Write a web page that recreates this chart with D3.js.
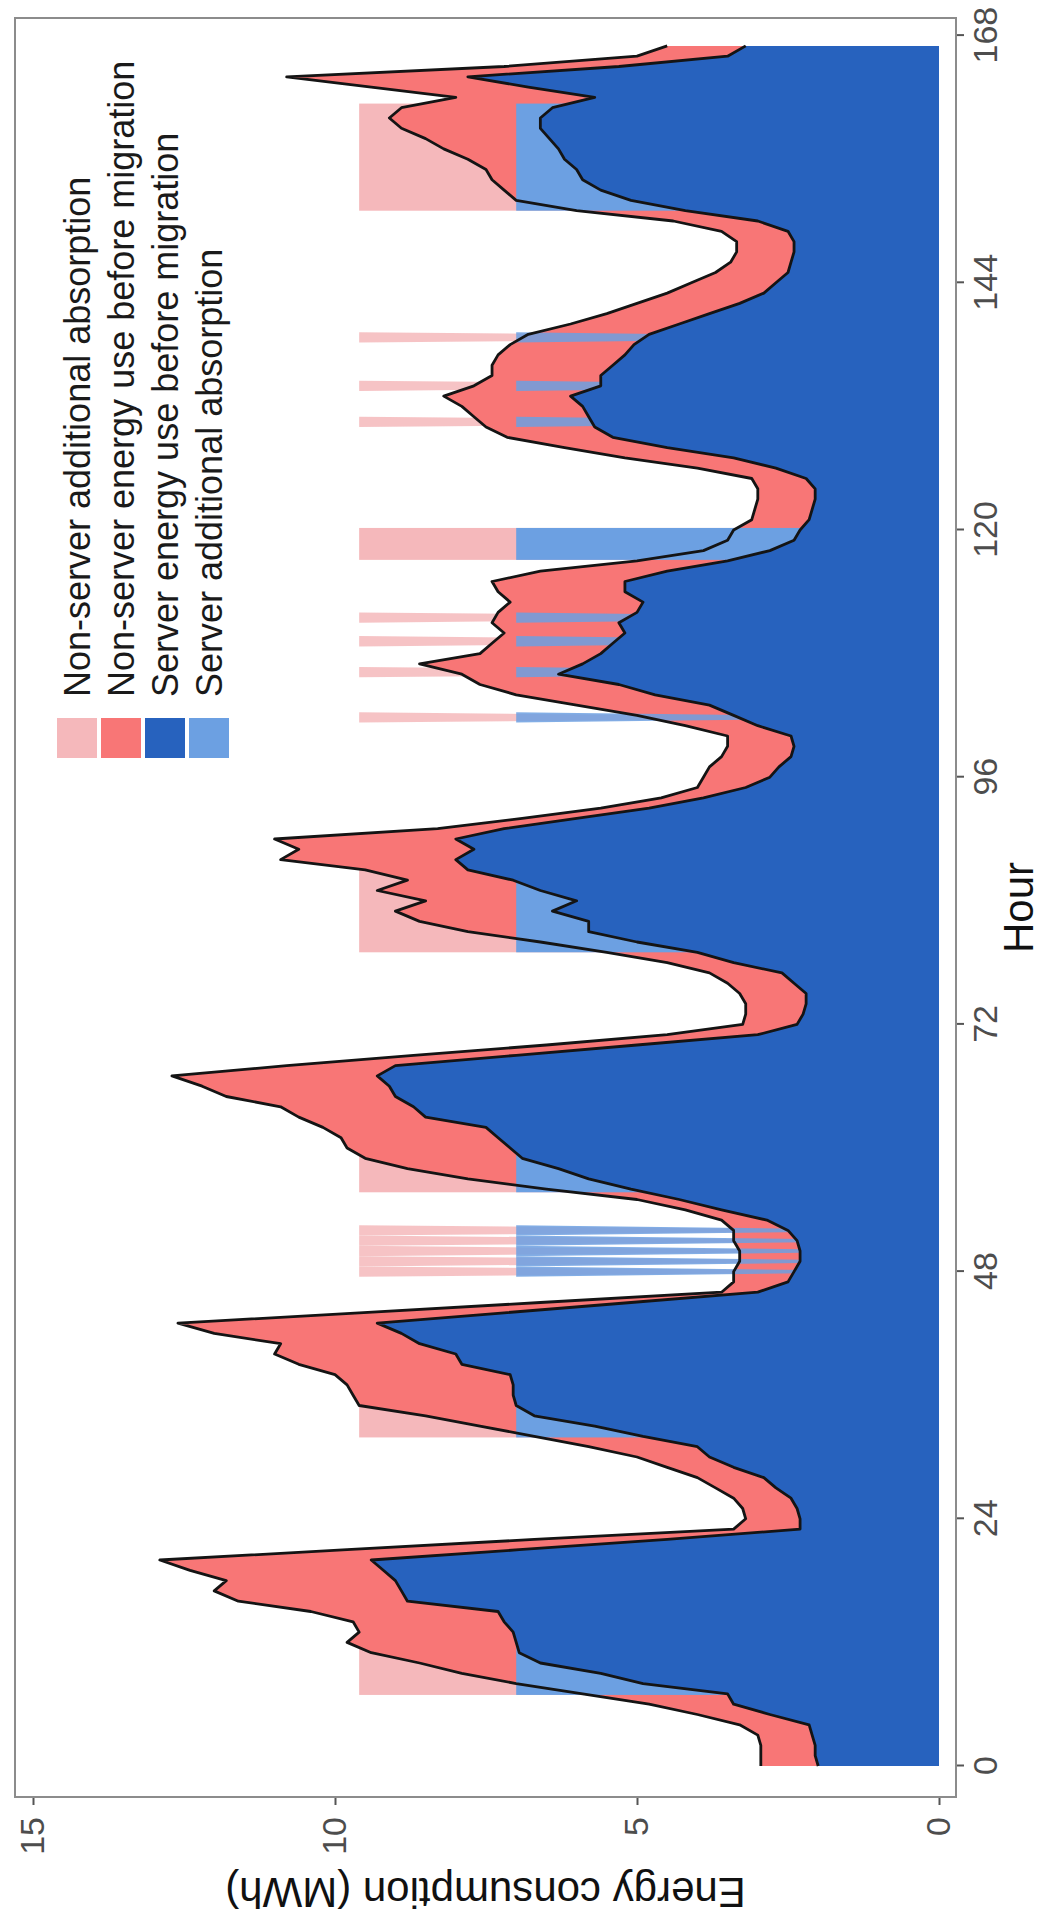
<!DOCTYPE html>
<html>
<head>
<meta charset="utf-8">
<script src="https://cdn.jsdelivr.net/npm/d3@7"></script>
<style>
body { margin: 0; background: #fff; }
text { font-family: 'Liberation Sans', Arial, sans-serif; }
</style>
</head>
<body>
<div id="drawArea"></div>
<script>
// hourly values, one week (hour 0 .. 167)
var hours = d3.range(0, 168);

var serverBefore = [
	2.0, 2.05, 2.05, 2.1, 2.15, 2.8, 3.4, 3.5, 4.9, 5.6, 6.6, 6.95, 7.0, 7.05, 7.2, 7.3, 8.8, 8.9, 9.0, 9.2, 9.4, 6.95, 4.5, 2.3,
	2.3, 2.35, 2.45, 2.7, 2.9, 3.4, 3.8, 4.0, 4.9, 5.7, 6.7, 7.0, 7.05, 7.05, 7.1, 7.9, 8.0, 8.6, 8.9, 9.3, 7.2, 5.1, 3.0, 2.5,
	2.4, 2.3, 2.3, 2.35, 2.5, 2.85, 3.6, 4.3, 5.1, 5.8, 6.3, 6.9, 7.1, 7.3, 7.5, 8.5, 8.7, 9.0, 9.1, 9.3, 9.0, 7.0, 5.0, 3.0,
	2.35, 2.25, 2.2, 2.2, 2.4, 2.6, 3.4, 4.0, 5.0, 5.8, 5.8, 6.4, 6.0, 6.6, 7.05, 7.8, 8.0, 7.7, 8.0, 7.2, 6.0, 4.8, 3.9, 3.2,
	2.8, 2.65, 2.45, 2.4, 2.45, 3.0, 3.4, 3.8, 4.7, 5.3, 6.3, 5.9, 5.6, 5.4, 5.2, 5.3, 5.0, 4.9, 5.2, 5.2, 4.5, 3.5, 2.8, 2.4,
	2.3, 2.15, 2.1, 2.05, 2.05, 2.2, 2.7, 3.4, 4.5, 5.4, 5.7, 5.8, 5.9, 6.1, 5.6, 5.6, 5.4, 5.2, 5.05, 4.8, 4.3, 3.8, 3.3, 2.9,
	2.7, 2.5, 2.45, 2.4, 2.4, 2.5, 3.0, 4.2, 5.1, 5.6, 5.9, 6.0, 6.2, 6.3, 6.45, 6.6, 6.6, 6.4, 5.7, 6.8, 7.8, 5.3, 3.5, 3.2
];

var nonServerBefore = [
	0.95, 0.9, 0.9, 0.9, 1.15, 1.2, 1.4, 2.4, 2.1, 2.3, 2.0, 2.45, 2.8, 2.55, 2.5, 3.1, 2.8, 3.1, 2.8, 3.2, 3.5, 2.85, 2.2, 1.1,
	0.9, 0.9, 0.95, 1.0, 1.1, 1.1, 1.2, 1.8, 1.8, 1.9, 1.8, 2.6, 2.65, 2.75, 2.9, 2.7, 3.0, 2.3, 3.1, 3.3, 2.4, 1.5, 0.6, 0.9,
	1.0, 1.0, 1.0, 1.05, 0.9, 0.75, 0.6, 0.7, 1.4, 2.0, 2.5, 2.6, 2.7, 2.6, 2.7, 2.1, 2.2, 2.8, 3.1, 3.4, 1.8, 1.7, 1.5, 1.5,
	0.9, 0.95, 1.0, 1.1, 1.1, 1.2, 1.1, 1.5, 1.6, 2.0, 2.8, 2.6, 2.5, 2.7, 1.75, 1.7, 2.9, 2.9, 3.0, 1.1, 0.9, 0.8, 0.7, 0.8,
	1.1, 1.15, 1.15, 1.1, 1.05, 1.2, 1.6, 2.2, 2.3, 2.3, 1.6, 2.7, 2.0, 2.0, 2.0, 2.1, 2.3, 2.2, 2.1, 2.2, 2.1, 1.5, 1.1, 1.1,
	1.1, 0.95, 0.95, 0.95, 0.95, 0.9, 1.3, 1.8, 1.7, 1.75, 1.8, 1.9, 2.0, 2.1, 2.1, 1.8, 2.0, 2.1, 2.05, 2.0, 1.8, 1.7, 1.7, 1.6,
	1.4, 1.2, 1.0, 0.95, 0.95, 1.1, 1.4, 1.8, 1.9, 1.6, 1.5, 1.5, 1.6, 1.9, 2.05, 2.3, 2.5, 2.5, 2.3, 2.6, 3.0, 1.9, 1.5, 1.3
];

// hours when load is absorbed (start, end) and single absorbed hours
var absorptionRuns = [[6.9, 20], [31.9, 43], [55.7, 66], [79, 87], [117.1, 120.2], [151, 161.4]];
var absorptionSpikes = [48, 49, 50, 51, 52, 101.8, 106.2, 109.2, 111.5, 130.5, 134, 138.7];
var serverCap = 7;
var totalCap = 9.6;

var hourTicks = [0, 24, 48, 72, 96, 120, 144, 168];
var energyTicks = [0, 5, 10, 15];

var legendLabels = ['Non-server additional absorption', 'Non-server energy use before migration',
	'Server energy use before migration', 'Server additional absorption'];
var colors = { nsAbs: '#f5b8bb', ns: '#f87676', srv: '#2762be', srvAbs: '#6ca0e2' };
var legendColors = [colors.nsAbs, colors.ns, colors.srv, colors.srvAbs];

var pageW = 1045, pageH = 1923;
// the chart is laid out landscape and turned a quarter turn counter-clockwise
var panel = { left: 126, right: 1905, top: 15, bottom: 956 };
var spikeWidth = 1.0;

var svg = d3.select('#drawArea').append('svg')
	.attr('width', pageW)
	.attr('height', pageH);

svg.append('rect').attr('width', pageW).attr('height', pageH).attr('fill', '#fff');

var chart = svg.append('g')
	.attr('transform', 'translate(0,' + pageH + ') rotate(-90)');

var x = d3.scaleLinear().domain([0, 168]).range([157, 1887.4]);
var y = d3.scaleLinear().domain([0, 15]).range([939, 33]);

var rows = hours.map(function(h, i) {
	return { hour: h, server: serverBefore[i], nonServer: nonServerBefore[i] };
});
var stacked = d3.stack().keys(['server', 'nonServer'])(rows);

var area = d3.area()
	.x(function(d) { return x(d.data.hour); })
	.y0(function(d) { return y(d[0]); })
	.y1(function(d) { return y(d[1]); });

var topLine = d3.line()
	.x(function(d) { return x(d.data.hour); })
	.y(function(d) { return y(d[1]); });

var wedge = d3.line()
	.x(function(p) { return x(p[0]); })
	.y(function(p) { return y(p[1]); });

function wedgePath(h, cap) {
	return wedge([[h - spikeWidth / 2, cap], [h + spikeWidth / 2, cap], [h, 0]]) + 'Z';
}

function drawAbsorption(cls, cap, fill) {
	chart.selectAll('rect.' + cls)
		.data(absorptionRuns)
		.enter().append('rect')
			.attr('class', cls)
			.attr('x', function(d) { return x(d[0]); })
			.attr('width', function(d) { return x(d[1]) - x(d[0]); })
			.attr('y', y(cap))
			.attr('height', y(0) - y(cap))
			.attr('fill', fill);
	chart.selectAll('path.' + cls)
		.data(absorptionSpikes)
		.enter().append('path')
			.attr('class', cls)
			.attr('d', function(h) { return wedgePath(h, cap); })
			.attr('fill', fill)
			.attr('opacity', 0.85);
}

// non-server absorption sits behind the red band
drawAbsorption('nsAbs', totalCap, colors.nsAbs);

chart.append('path')
	.datum(stacked[1])
	.attr('d', area)
	.attr('fill', colors.ns);

// server absorption covers the red band up to the server cap
drawAbsorption('srvAbs', serverCap, colors.srvAbs);

chart.append('path')
	.datum(stacked[0])
	.attr('d', area)
	.attr('fill', colors.srv);

stacked.forEach(function(layer) {
	chart.append('path')
		.datum(layer)
		.attr('d', topLine)
		.attr('fill', 'none')
		.attr('stroke', '#141414')
		.attr('stroke-width', 2.8)
		.attr('stroke-linejoin', 'round');
});

// axes
var hourAxis = d3.axisBottom(x).tickValues(hourTicks).tickSize(8).tickPadding(9);
var hourG = chart.append('g')
	.attr('transform', 'translate(0,' + panel.bottom + ')')
	.call(hourAxis);
hourG.select('.domain').remove();

var energyAxis = d3.axisLeft(y).tickValues(energyTicks).tickSize(8).tickPadding(12);
var energyG = chart.append('g')
	.attr('transform', 'translate(' + panel.left + ',0)')
	.call(energyAxis);
energyG.select('.domain').remove();

[hourG, energyG].forEach(function(g) {
	g.selectAll('line').attr('stroke', '#555').attr('stroke-width', 2);
	g.selectAll('text')
		.attr('font-size', 34)
		.attr('font-family', "'Liberation Sans', Arial, sans-serif")
		.attr('fill', '#4d4d4d');
});

chart.append('rect')
	.attr('x', panel.left)
	.attr('y', panel.top)
	.attr('width', panel.right - panel.left)
	.attr('height', panel.bottom - panel.top)
	.attr('fill', 'none')
	.attr('stroke', '#8c8c8c')
	.attr('stroke-width', 2);

chart.append('text')
	.attr('x', (panel.left + panel.right) / 2)
	.attr('y', 1033)
	.attr('text-anchor', 'middle')
	.attr('font-size', 42)
	.attr('fill', '#111')
	.text('Hour');

chart.append('text')
	.attr('transform', 'translate(30,' + (panel.top + panel.bottom) / 2 + ') rotate(-90)')
	.attr('text-anchor', 'middle')
	.attr('dy', '0.35em')
	.attr('font-size', 42)
	.attr('fill', '#111')
	.text('Energy consumption (MWh)');

// legend
var legend = chart.append('g').attr('transform', 'translate(1165,57)');
var items = legend.selectAll('g')
	.data(legendLabels)
	.enter().append('g')
		.attr('transform', function(d, i) { return 'translate(0,' + (i * 44) + ')'; });
items.append('rect')
	.attr('width', 40)
	.attr('height', 40)
	.attr('fill', function(d, i) { return legendColors[i]; });
items.append('text')
	.attr('x', 61)
	.attr('y', 20)
	.attr('dy', '0.35em')
	.attr('font-size', 36)
	.attr('fill', '#1a1a1a')
	.text(function(d) { return d; });
</script>
</body>
</html>
